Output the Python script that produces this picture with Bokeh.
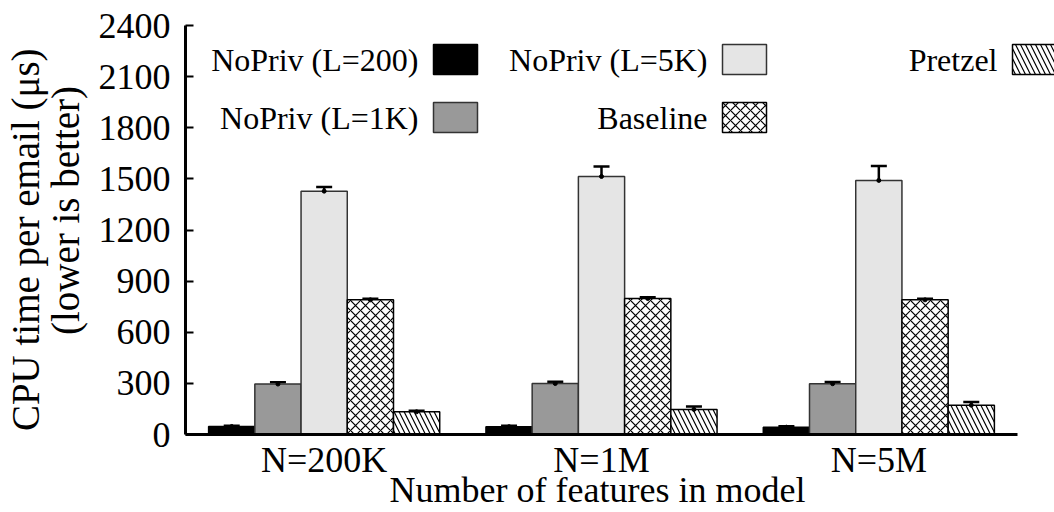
import numpy as np
from bokeh.plotting import figure
from bokeh.models import (ColumnDataSource, Range1d, FixedTicker, LinearAxis, Whisker, TeeHead)
from bokeh.core.properties import value
from bokeh.embed import file_html
from bokeh.resources import INLINE

# ---------------- data ----------------
groups = ["N=200K", "N=1M", "N=5M"]
series = ["NoPriv (L=200)", "NoPriv (L=1K)", "NoPriv (L=5K)", "Baseline", "Pretzel"]
nopriv_200 = [47, 46, 43]
nopriv_200_err = [5, 5, 5]
nopriv_1k = [296, 299, 298]
nopriv_1k_err = [10, 11, 10]
nopriv_5k = [1428, 1514, 1491]
nopriv_5k_err = [25, 58, 85]
baseline = [790, 798, 790]
baseline_err = [7, 8, 6]
pretzel = [133, 147, 172]
pretzel_err = [7, 17, 19]
y_ticks = [0, 300, 600, 900, 1200, 1500, 1800, 2100, 2400]

values = [nopriv_200, nopriv_1k, nopriv_5k, baseline, pretzel]
errors = [nopriv_200_err, nopriv_1k_err, nopriv_5k_err, baseline_err, pretzel_err]

# ---------------- styles ----------------
FONT = "Liberation Serif"
NB = "\u00a0"
fills = ["#000000", "#999999", "#e5e5e5", "#ffffff", "#ffffff"]
outlines = ["#000000", "#333333", "#333333", "#000000", "#000000"]
hatches = [" ", " ", " ", "x", "\\"]

# ---------------- layout (canvas px) ----------------
W, H = 1054, 512
FL, FR_AX, FT, FB = 185, 1017, 25, 434   # frame left, x-axis right end, top, bottom
PPU = (FR_AX - FL) / 3.0                  # pixels per group unit
X0 = -0.5
X1 = X0 + (W - FL) / PPU
YMAX = 2400.0

def px(xc):
    return X0 + (xc - FL) / PPU

def py(yc):
    return (FB - yc) * YMAX / (FB - FT)

p = figure(width=W, height=H, output_backend="svg", toolbar_location=None,
           x_range=Range1d(X0, X1), y_range=Range1d(0, YMAX),
           min_border_left=FL, min_border_right=0, min_border_top=FT,
           min_border_bottom=H - FB)
p.outline_line_color = None
p.grid.visible = False
p.background_fill_color = "white"
p.border_fill_color = "white"

bw = 1.0 / 6.0
offsets = [-2 * bw, -bw, 0.0, bw, 2 * bw]
gx = np.arange(len(groups))

for i in range(len(series)):
    xs = gx + offsets[i]
    src = ColumnDataSource(dict(x=xs, top=values[i],
                                lo=np.array(values[i]) - np.array(errors[i]),
                                hi=np.array(values[i]) + np.array(errors[i])))
    kw = {}
    if hatches[i].strip():
        kw = dict(hatch_pattern=hatches[i], hatch_color="black", hatch_scale=10,
                  hatch_weight=1.2)
    p.vbar(x="x", top="top", bottom=0, width=bw, source=src, fill_color=fills[i],
           line_color=outlines[i], line_width=1.5, **kw)
    wh = Whisker(base="x", lower="lo", upper="hi", source=src, line_width=2.5,
                 line_color="black",
                 upper_head=TeeHead(size=16, line_width=2.5, line_color="black"),
                 lower_head=TeeHead(size=16, line_width=2.5, line_color="black"))
    p.add_layout(wh)
    p.scatter(x="x", y="top", source=src, size=4, color="black")

# x axis
xa = p.xaxis[0]
xa.ticker = FixedTicker(ticks=list(gx))
xa.major_label_overrides = {int(k): g for k, g in zip(gx, groups)}
xa.bounds = (-0.5, 2.5)
xa.axis_line_width = 3
xa.major_tick_in = 0
xa.major_tick_out = 0
xa.minor_tick_line_color = None
xa.major_label_text_font = FONT
xa.major_label_text_font_size = "36px"
xa.major_label_text_color = "black"
xa.major_label_standoff = 5
xa.axis_label = "Number of features in model" + NB * 5
xa.axis_label_text_font = FONT
xa.axis_label_text_font_size = "36px"
xa.axis_label_text_font_style = "normal"
xa.axis_label_text_color = "black"
xa.axis_label_standoff = -13

# y axis
ya = p.yaxis[0]
ya.ticker = FixedTicker(ticks=y_ticks)
ya.axis_line_width = 3
ya.major_tick_in = 8
ya.major_tick_out = 0
ya.major_tick_line_width = 2
ya.minor_tick_line_color = None
ya.major_label_text_font = FONT
ya.major_label_text_font_size = "36px"
ya.major_label_text_color = "black"
ya.major_label_standoff = 15
ya.axis_label = NB * 4 + "(lower is better)"
ya.axis_label_text_font = FONT
ya.axis_label_text_font_size = "39px"
ya.axis_label_text_font_style = "normal"
ya.axis_label_text_color = "black"
ya.axis_label_standoff = 9

ya2 = LinearAxis(ticker=FixedTicker(ticks=[]), axis_line_color=None,
                 major_tick_in=0, major_tick_out=0, minor_tick_line_color=None,
                 major_label_standoff=0,
                 axis_label="CPU time per email (μs)" + NB * 2,
                 axis_label_text_font=FONT, axis_label_text_font_size="39px",
                 axis_label_text_font_style="normal", axis_label_text_color="black",
                 axis_label_standoff=-6)
p.add_layout(ya2, "left")

# legend (manual, label then swatch)
leg_pos = [(418, 59), (418, 117), (707, 59), (707, 117), (997, 59)]  # text right, row center
SW_GAP, SW_W, SW_H = 15, 44, 30
for i, (tx, ty) in enumerate(leg_pos):
    p.text(x=[px(tx)], y=[py(ty)], text=[series[i]], text_font=value(FONT),
           text_font_size="32px", text_align="right", text_baseline="middle",
           text_color="black")
    sx0 = tx + SW_GAP
    kw = {}
    if hatches[i].strip():
        kw = dict(hatch_pattern=hatches[i], hatch_color="black", hatch_scale=10,
                  hatch_weight=1.2)
    p.quad(left=[px(sx0)], right=[px(sx0 + SW_W)], top=[py(ty - SW_H / 2)],
           bottom=[py(ty + SW_H / 2)], fill_color=fills[i], line_color=outlines[i],
           line_width=1.5, **kw)

open("out.html", "w").write(file_html(p, INLINE))
